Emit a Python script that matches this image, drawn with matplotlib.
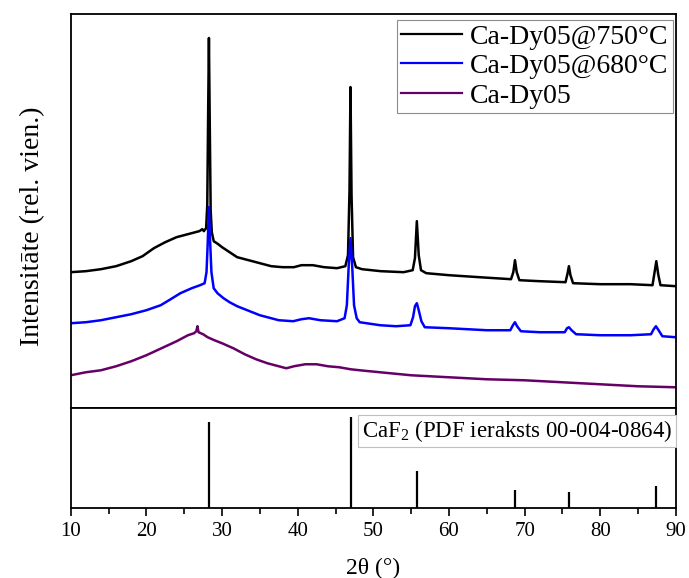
import matplotlib
matplotlib.use("Agg")
import matplotlib.pyplot as plt
from matplotlib.ticker import MultipleLocator

plt.rcParams['font.family'] = ['Liberation Serif', 'DejaVu Serif']
plt.rcParams['mathtext.fontset'] = 'custom'
plt.rcParams['mathtext.rm'] = 'Liberation Serif'
plt.rcParams['mathtext.it'] = 'Liberation Serif:italic'

# 2theta / intensity (arb. units)
x_750 = [10.0, 12.0, 14.0, 16.0, 18.0, 19.5, 21.0, 22.5, 24.0, 25.5, 26.5, 27.0,
         27.4, 27.6, 27.9, 28.05, 28.17, 28.27, 28.37, 28.5, 28.65, 28.9, 29.5,
         30.0, 31.0, 32.0, 33.0, 34.0, 35.0, 36.5, 38.0, 39.5, 40.5, 42.0, 43.5,
         45.2, 46.3, 46.65, 46.85, 46.98, 47.12, 47.32, 47.7, 48.5, 51.0, 54.0,
         55.2, 55.5, 55.75, 56.0, 56.3, 57.0, 60.0, 64.0, 68.2, 68.5, 68.72, 68.95,
         69.3, 72.0, 75.4, 75.65, 75.85, 76.05, 76.4, 80.0, 84.0, 86.9, 87.15,
         87.4, 87.65, 87.95, 90.0]
y_750 = [136, 137, 139, 142, 147, 152, 160, 166, 171, 174, 176, 177,
         179, 177, 180, 203, 298, 370, 293, 198, 176, 167, 164,
         161, 156, 151, 149, 147, 145, 142, 141, 141, 143, 143, 141,
         140, 142, 153, 218, 321, 213, 151, 141, 139, 137, 136,
         138, 150, 187, 153, 138, 135, 133, 131, 129, 136, 148, 136,
         128, 127, 126, 134, 142, 133, 125, 124, 124, 123, 135,
         147, 134, 123, 122]

x_680 = [10.0, 12.0, 14.0, 16.0, 18.0, 20.0, 21.9, 23.0, 24.5, 26.0, 27.1, 27.7,
         27.95, 28.1, 28.27, 28.42, 28.6, 28.9, 29.4, 30.2, 31.0, 32.0, 33.0,
         34.0, 35.0, 36.0, 37.5, 39.4, 40.5, 41.5, 43.0, 45.2, 46.2, 46.5, 46.75,
         46.98, 47.2, 47.45, 47.8, 48.2, 50.9, 53.0, 54.9, 55.25, 55.5, 55.75,
         56.0, 56.35, 56.8, 60.0, 65.0, 68.1, 68.45, 68.72, 69.0, 69.5, 72.0,
         75.3, 75.6, 75.85, 76.2, 76.8, 80.0, 84.0, 86.7, 87.05, 87.35, 87.7,
         88.2, 90.0]
y_680 = [85, 86, 88, 91, 94, 98, 103, 108, 115, 120, 123, 125,
         136, 163, 201, 168, 136, 120, 115, 110, 106, 102, 99,
         96, 93, 91, 88, 87, 89, 90, 88, 87, 90, 103, 143,
         170, 143, 103, 90, 86, 83, 82, 83, 91, 102, 105,
         98, 87, 81, 80, 78, 78, 83, 86, 82, 77, 76,
         76, 80, 81, 78, 74, 73, 73, 74, 79, 82, 78,
         72, 71]

x_raw = [10.0, 12.0, 14.0, 16.0, 18.0, 20.0, 22.0, 24.0, 25.5, 26.3, 26.6, 26.75,
         26.9, 27.5, 28.1, 29.0, 30.0, 31.5, 33.0, 34.5, 36.0, 37.5, 38.5, 39.5,
         41.0, 42.5, 44.0, 45.5, 47.0, 48.2, 50.9, 55.0, 60.0, 65.0, 70.0, 75.0,
         80.0, 85.0, 90.0]
y_raw = [33, 36, 38, 42, 47, 53, 60, 67, 73, 75, 77, 82,
         76, 74, 71, 68, 65, 60, 54, 49, 45, 42, 40, 42,
         44, 44, 42, 41, 39, 38, 36, 33, 31, 29, 28, 26,
         24, 22, 21]

# CaF2 reference pattern
ref_pos = [28.28, 47.05, 55.8, 68.7, 75.9, 87.4]
ref_int = [86.6, 91.6, 37.6, 18.3, 16.6, 22.3]

fig = plt.figure(figsize=(6.89, 5.78), dpi=100)
ax1 = fig.add_axes([0.1026, 0.2936, 0.8785, 0.6822])
ax2 = fig.add_axes([0.1026, 0.1206, 0.8785, 0.1730])

ax1.plot(x_750, y_750, color='black', lw=1.8, label='Ca-Dy05@750°C')
ax1.plot(x_680, y_680, color='#0000ff', lw=1.8, label='Ca-Dy05@680°C')
ax1.plot(x_raw, y_raw, color='#660066', lw=1.8, label='Ca-Dy05')
ax1.set_xlim(10, 90)
ax1.set_ylim(0, 394)
ax1.set_xticks([])
ax1.set_yticks([])

leg = ax1.legend(loc='upper right', bbox_to_anchor=(0.995, 0.985), borderaxespad=0,
                 fontsize=20, handlelength=2.2, handletextpad=0.3, borderpad=0.15,
                 labelspacing=0.15, fancybox=False, framealpha=1)
leg.get_frame().set_edgecolor('0.55')
leg.get_frame().set_linewidth(0.8)
for h in leg.get_lines():
    h.set_linewidth(1.6)

ax2.vlines(ref_pos, 0, ref_int, color='black', lw=1.6)
ax2.set_xlim(10, 90)
ax2.set_ylim(0, 100)
ax2.set_yticks([])
ax2.xaxis.set_major_locator(MultipleLocator(10))
ax2.xaxis.set_minor_locator(MultipleLocator(5))
ax2.tick_params(axis='x', which='major', direction='out', length=6, width=1.2,
                labelsize=15, pad=4)
ax2.tick_params(axis='x', which='minor', direction='out', length=4, width=1.2)
ax2.text(0.481, 0.773, r'CaF$_2$ (PDF ieraksts 00-004-0864)', transform=ax2.transAxes,
         ha='left', va='center', fontsize=16.5,
         bbox=dict(boxstyle='square,pad=0.15', fc='white', ec='0.75', lw=0.8))

for ax in (ax1, ax2):
    for s in ax.spines.values():
        s.set_linewidth(1.3)

fig.text(33 / 689, 1 - 226 / 578, 'Intensitāte (rel. vien.)', rotation=90,
         ha='center', va='center', fontsize=20)
fig.text(373 / 689, 1 - 568 / 578, '2θ (°)', ha='center', va='center', fontsize=17)

fig.savefig('out.png', dpi=100)
